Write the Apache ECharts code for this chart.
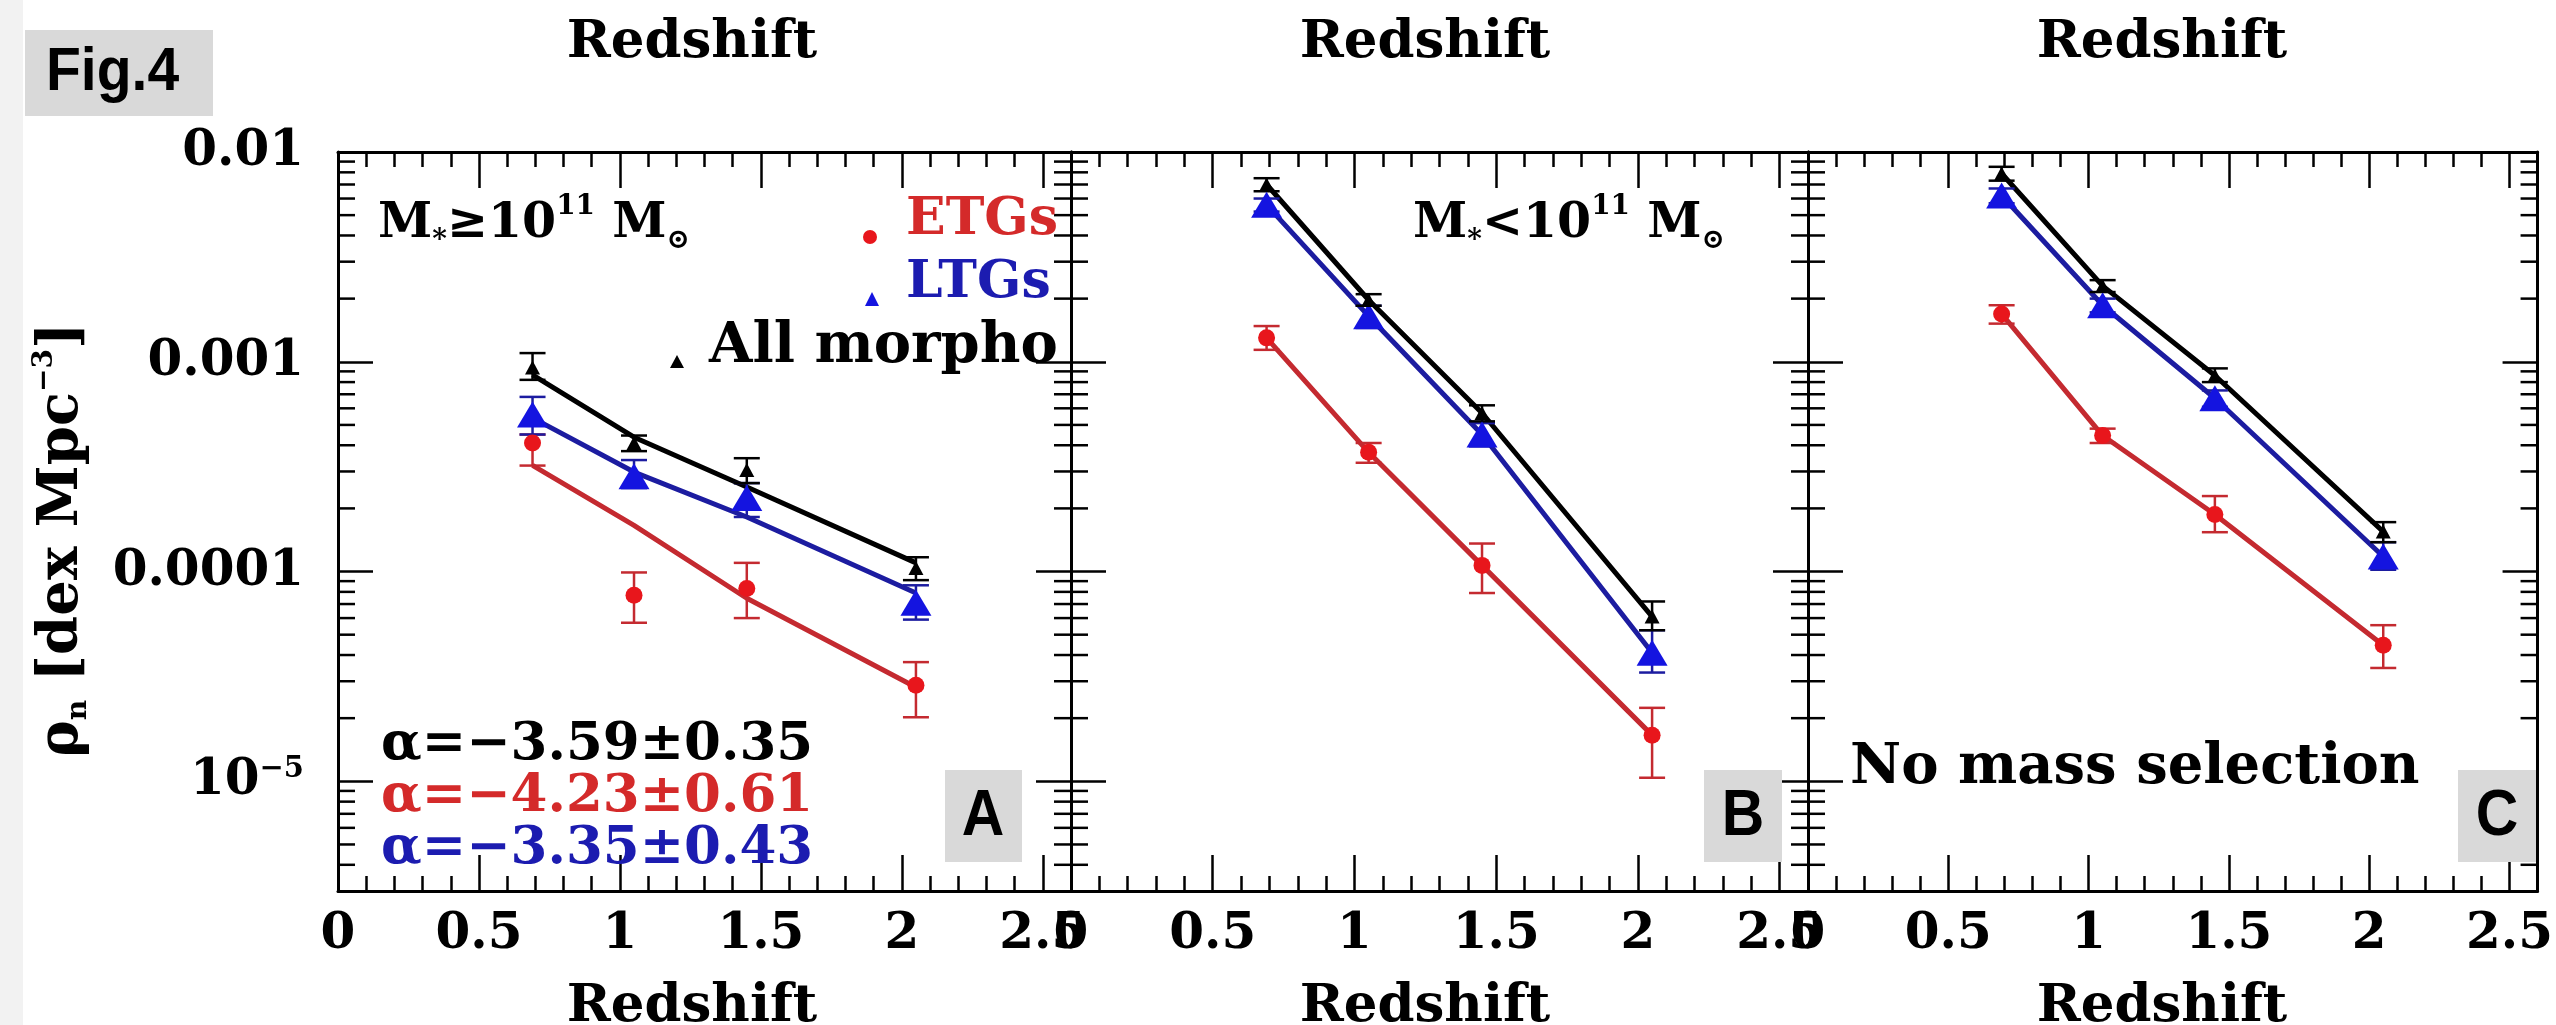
<!DOCTYPE html>
<html>
<head>
<meta charset="utf-8">
<script src="https://cdn.jsdelivr.net/npm/echarts@6/dist/echarts.min.js"></script>
<style>
html, body { margin: 0; padding: 0; background: #fff; }
#chart { width: 2556px; height: 1025px; }
</style>
</head>
<body>
<div id="chart"></div>
<script>
// mean redshift of the four bins
var xs = [0.69, 1.05, 1.45, 2.05];

// panel A : M* >= 1e11 Msun
var aEtg = [4.1e-4, 7.7e-5, 8.3e-5, 2.87e-5];
var aEtgLo = [3.2e-4, 5.7e-5, 6.0e-5, 2.02e-5];
var aEtgHi = [4.5e-4, 9.9e-5, 1.1e-4, 3.7e-5];
var aEtgFit = [3.21e-4, 1.66e-4, 7.46e-5, 2.81e-5];
var aLtg = [5.6e-4, 2.85e-4, 2.24e-4, 7.1e-5];
var aLtgLo = [4.5e-4, 2.5e-4, 1.82e-4, 5.9e-5];
var aLtgHi = [6.8e-4, 3.4e-4, 2.64e-4, 8.6e-5];
var aLtgFit = [5.4e-4, 2.98e-4, 1.82e-4, 7.9e-5];
var aAll = [9.4e-4, 4.1e-4, 3.05e-4, 1.04e-4];
var aAllLo = [8.2e-4, 3.75e-4, 2.64e-4, 9.1e-5];
var aAllHi = [1.1e-3, 4.45e-4, 3.47e-4, 1.17e-4];
var aAllFit = [8.65e-4, 4.37e-4, 2.53e-4, 1.1e-4];

// panel B : M* < 1e11 Msun
var bEtg = [1.3e-3, 3.7e-4, 1.07e-4, 1.66e-5];
var bEtgLo = [1.14e-3, 3.3e-4, 7.9e-5, 1.04e-5];
var bEtgHi = [1.48e-3, 4.1e-4, 1.36e-4, 2.24e-5];
var bLtg = [5.6e-3, 1.65e-3, 4.5e-4, 4.1e-5];
var bLtgLo = [5.2e-3, 1.45e-3, 3.95e-4, 3.3e-5];
var bLtgHi = [6.0e-3, 1.85e-3, 5.1e-4, 5.25e-5];
var bAll = [7.0e-3, 1.97e-3, 5.7e-4, 6.1e-5];
var bAllLo = [6.5e-3, 1.85e-3, 5.2e-4, 5.25e-5];
var bAllHi = [7.5e-3, 2.1e-3, 6.2e-4, 7.2e-5];

// panel C : no mass selection
var cEtg = [1.69e-3, 4.45e-4, 1.87e-4, 4.45e-5];
var cEtgLo = [1.52e-3, 4.1e-4, 1.54e-4, 3.47e-5];
var cEtgHi = [1.86e-3, 4.8e-4, 2.29e-4, 5.55e-5];
var cLtg = [6.2e-3, 1.86e-3, 6.7e-4, 1.18e-4];
var cLtgLo = [5.7e-3, 1.72e-3, 6.1e-4, 1.02e-4];
var cLtgHi = [6.7e-3, 2.0e-3, 7.3e-4, 1.38e-4];
var cAll = [7.9e-3, 2.3e-3, 8.6e-4, 1.55e-4];
var cAllLo = [7.3e-3, 2.15e-3, 8.0e-4, 1.38e-4];
var cAllHi = [8.5e-3, 2.45e-3, 9.3e-4, 1.72e-4];

// axes
var yTickVals = [0.01, 0.001, 0.0001, 0.00001];
var yTickText = ['0.01', '0.001', '0.0001', '10{sup|−5}'];
var yMinorMult = [2, 3, 4, 5, 6, 7, 8, 9];
var yMinorDecades = [1e-6, 1e-5, 1e-4, 1e-3];
var alphaText = ['α=−3.59±0.35', 'α=−4.23±0.61', 'α=−3.35±0.43'];

var RED = '#e8161c', RED_LINE = '#c42a30';
var BLUE = '#1414e0', BLUE_LINE = '#1c1ca0';
var SERIF = 'DejaVu Serif';
var SANS = '"Liberation Sans", sans-serif';

var XMIN = 0, XMAX = 2.6, YMIN = 3e-6, YMAX = 0.01;
var TOP = 152, HEIGHT = 739;
var panels = [
    {left: 338, width: 733},
    {left: 1071, width: 737},
    {left: 1808, width: 735}
];

var chart = echarts.init(document.getElementById('chart'));

function zip(a, b) {
    return a.map(function (v, i) { return [v, b[i]]; });
}

// error bar drawn through the axes
function errBar(color) {
    return function (params, api) {
        var x = api.value(0);
        var pLo = api.coord([x, api.value(1)]);
        var pHi = api.coord([x, api.value(2)]);
        var w = 13;
        var style = {stroke: color, lineWidth: 2.5};
        return {
            type: 'group',
            children: [
                {type: 'line', shape: {x1: pLo[0], y1: pLo[1], x2: pHi[0], y2: pHi[1]}, style: style},
                {type: 'line', shape: {x1: pLo[0] - w, y1: pLo[1], x2: pLo[0] + w, y2: pLo[1]}, style: style},
                {type: 'line', shape: {x1: pHi[0] - w, y1: pHi[1], x2: pHi[0] + w, y2: pHi[1]}, style: style}
            ]
        };
    };
}

// minor log ticks on both sides of a panel
function minorTick(params, api) {
    var v = api.value(1);
    var l = api.coord([XMIN, v]);
    var r = api.coord([XMAX, v]);
    var style = {stroke: '#000', lineWidth: 2.5};
    return {
        type: 'group',
        children: [
            {type: 'line', shape: {x1: l[0], y1: l[1], x2: l[0] + 17, y2: l[1]}, style: style},
            {type: 'line', shape: {x1: r[0], y1: r[1], x2: r[0] - 17, y2: r[1]}, style: style}
        ]
    };
}

var yMinor = [];
yMinorDecades.forEach(function (d) {
    yMinorMult.forEach(function (m) {
        var v = m * d;
        if (v > YMIN * 1.01 && v < YMAX) yMinor.push([0, v]);
    });
});

function groupSeries(pi, vals, lo, hi, line, col, lineCol, sym, size) {
    return [
        {
            type: 'line', xAxisIndex: 2 * pi, yAxisIndex: 2 * pi,
            data: zip(xs, line), symbol: 'none', silent: true,
            lineStyle: {color: lineCol, width: 5}, z: 2
        },
        {
            type: 'custom', xAxisIndex: 2 * pi, yAxisIndex: 2 * pi,
            data: xs.map(function (x, i) { return [x, lo[i], hi[i]]; }),
            encode: {x: 0, y: [1, 2]}, renderItem: errBar(lineCol), z: 3, silent: true
        },
        {
            type: 'scatter', xAxisIndex: 2 * pi, yAxisIndex: 2 * pi,
            data: zip(xs, vals), symbol: sym, symbolSize: size,
            itemStyle: {color: col, opacity: 1}, z: 4, silent: true
        }
    ];
}

var grids = [], xAxes = [], yAxes = [], series = [];
var tickLine = {color: '#000', width: 2.5};

panels.forEach(function (p, i) {
    grids.push({left: p.left, top: TOP, width: p.width, height: HEIGHT});
    ['bottom', 'top'].forEach(function (pos) {
        xAxes.push({
            gridIndex: i, type: 'value', position: pos, min: XMIN, max: XMAX, interval: 0.5,
            axisLine: {show: true, onZero: false, lineStyle: {color: '#000', width: 3}},
            axisTick: {inside: true, length: 36, lineStyle: tickLine},
            minorTick: {show: true, splitNumber: 5, length: 15, lineStyle: tickLine},
            splitLine: {show: false},
            axisLabel: {
                show: pos === 'bottom', showMaxLabel: false, margin: 19,
                fontFamily: SERIF, fontSize: 50, fontWeight: 'bold', color: '#000'
            }
        });
    });
    ['left', 'right'].forEach(function (pos) {
        yAxes.push({
            gridIndex: i, type: 'log', logBase: 10, position: pos, min: YMIN, max: YMAX,
            axisLine: {show: true, onZero: false, lineStyle: {color: '#000', width: 3}},
            axisTick: {inside: true, length: 35, lineStyle: tickLine},
            splitLine: {show: false},
            axisLabel: {
                show: i === 0 && pos === 'left', showMinLabel: false, margin: 34,
                fontFamily: SERIF, fontSize: 50, fontWeight: 'bold', color: '#000', lineHeight: 52,
                formatter: function (v) {
                    for (var k = 0; k < yTickVals.length; k++) {
                        if (Math.abs(Math.log10(v) - Math.log10(yTickVals[k])) < 0.01) return yTickText[k];
                    }
                    return '';
                },
                rich: {
                    sup: {fontFamily: SERIF, fontSize: 29, fontWeight: 'bold', color: '#000', lineHeight: 26, verticalAlign: 'top'}
                }
            }
        });
    });
    series.push({
        type: 'custom', xAxisIndex: 2 * i, yAxisIndex: 2 * i, data: yMinor,
        encode: {x: 0, y: 1}, renderItem: minorTick, silent: true, z: 1
    });
});

var TRI_BIG = [31, 26], TRI_SMALL = [15, 14], DOT = 17;

series = series
    .concat(groupSeries(0, aEtg, aEtgLo, aEtgHi, aEtgFit, RED, RED_LINE, 'circle', DOT))
    .concat(groupSeries(0, aLtg, aLtgLo, aLtgHi, aLtgFit, BLUE, BLUE_LINE, 'triangle', TRI_BIG))
    .concat(groupSeries(0, aAll, aAllLo, aAllHi, aAllFit, '#000', '#000', 'triangle', TRI_SMALL))
    .concat(groupSeries(1, bEtg, bEtgLo, bEtgHi, bEtg, RED, RED_LINE, 'circle', DOT))
    .concat(groupSeries(1, bLtg, bLtgLo, bLtgHi, bLtg, BLUE, BLUE_LINE, 'triangle', TRI_BIG))
    .concat(groupSeries(1, bAll, bAllLo, bAllHi, bAll, '#000', '#000', 'triangle', TRI_SMALL))
    .concat(groupSeries(2, cEtg, cEtgLo, cEtgHi, cEtg, RED, RED_LINE, 'circle', DOT))
    .concat(groupSeries(2, cLtg, cLtgLo, cLtgHi, cLtg, BLUE, BLUE_LINE, 'triangle', TRI_BIG))
    .concat(groupSeries(2, cAll, cAllLo, cAllHi, cAll, '#000', '#000', 'triangle', TRI_SMALL));

function txt(x, y, text, opt) {
    opt = opt || {};
    var fam = opt.family || ('"' + SERIF + '"');
    return {
        type: 'text', x: x, y: y, rotation: opt.rotation || 0, scaleX: opt.scaleX || 1, z: 10,
        style: {
            text: text,
            fill: opt.color || '#000',
            font: (opt.weight || 'bold') + ' ' + (opt.size || 53) + 'px ' + fam,
            textAlign: opt.align || 'left',
            textVerticalAlign: 'middle',
            rich: opt.rich
        }
    };
}

function massRich(size) {
    return {
        m: {fontFamily: SERIF, fontSize: size, fontWeight: 'bold', lineHeight: 62, verticalAlign: 'middle'},
        sub: {fontFamily: SERIF, fontSize: 28, fontWeight: 'bold', lineHeight: 28, verticalAlign: 'bottom'},
        sup: {fontFamily: SERIF, fontSize: 28, fontWeight: 'bold', lineHeight: 28, verticalAlign: 'top'}
    };
}

var graphics = [
    {type: 'rect', shape: {x: 0, y: 0, width: 23, height: 1025}, style: {fill: '#f2f2f2'}, z: 0},
    {type: 'rect', shape: {x: 25, y: 30, width: 188, height: 86}, style: {fill: '#d9d9d9'}, z: 9},
    txt(46, 73, 'Fig.4', {family: SANS, size: 62, scaleX: 0.92}),
    {type: 'rect', shape: {x: 945, y: 770, width: 77, height: 92}, style: {fill: '#d9d9d9'}, z: 9},
    {type: 'rect', shape: {x: 1704, y: 770, width: 78, height: 92}, style: {fill: '#d9d9d9'}, z: 9},
    {type: 'rect', shape: {x: 2458, y: 770, width: 78, height: 92}, style: {fill: '#d9d9d9'}, z: 9},
    txt(983, 817, 'A', {family: SANS, size: 64, align: 'center', scaleX: 0.92}),
    txt(1743, 817, 'B', {family: SANS, size: 64, align: 'center', scaleX: 0.92}),
    txt(2497, 817, 'C', {family: SANS, size: 64, align: 'center', scaleX: 0.92}),
    txt(692, 43, 'Redshift', {align: 'center', size: 53}),
    txt(1425, 43, 'Redshift', {align: 'center', size: 53}),
    txt(2162, 43, 'Redshift', {align: 'center', size: 53}),
    txt(692, 1007, 'Redshift', {align: 'center', size: 53}),
    txt(1425, 1007, 'Redshift', {align: 'center', size: 53}),
    txt(2162, 1007, 'Redshift', {align: 'center', size: 53}),
    txt(62, 540, '{m|ρ}{sub|n} {m|[dex Mpc}{sup|−3}{m|]}', {align: 'center', rotation: Math.PI / 2, rich: massRich(56)}),
    txt(378, 224, '{m|M}{sub|*}{m|≥10}{sup|11}{m| M}{sub|⊙}', {rich: massRich(49)}),
    txt(1413, 224, '{m|M}{sub|*}{m|<10}{sup|11}{m| M}{sub|⊙}', {rich: massRich(49)}),
    {type: 'circle', shape: {cx: 870, cy: 237, r: 7}, style: {fill: RED}, z: 10},
    txt(906, 220, 'ETGs', {color: '#d42a2a', size: 52}),
    {type: 'polygon', shape: {points: [[872, 292], [865, 306], [879, 306]]}, style: {fill: BLUE}, z: 10},
    txt(906, 283, 'LTGs', {color: '#1c1cb0', size: 52}),
    {type: 'polygon', shape: {points: [[677, 355], [670, 368], [684, 368]]}, style: {fill: '#000'}, z: 10},
    txt(709, 347, 'All morpho', {size: 56}),
    txt(381, 745, alphaText[0], {size: 53}),
    txt(381, 797, alphaText[1], {color: '#d42a2a', size: 53}),
    txt(381, 849, alphaText[2], {color: '#1c1cb0', size: 53}),
    txt(1850, 768, 'No mass selection', {size: 56})
];

chart.setOption({
    backgroundColor: '#fff',
    animation: false,
    grid: grids,
    xAxis: xAxes,
    yAxis: yAxes,
    series: series,
    graphic: graphics
});
</script>
</body>
</html>
